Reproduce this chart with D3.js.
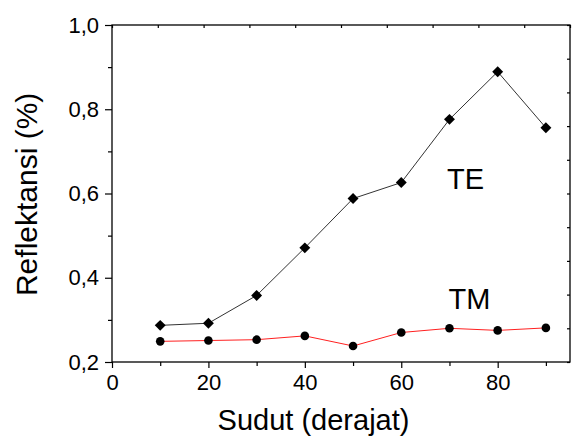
<!DOCTYPE html>
<html lang="en">
<head>
    <meta charset="UTF-8">
    <title>Reflektansi</title>
    <script src="https://d3js.org/d3.v7.min.js"></script>
    <style>
        body { margin: 0; background: #fff; }
        text { font-family: "Liberation Sans", Arial, sans-serif; fill: #000; }
        .line { fill: none; stroke-width: 1px; }
    </style>
</head>
<body>
<div id="chart"></div>
<script>
    // data
    var sudut = [10, 20, 30, 40, 50, 60, 70, 80, 90];
    var te = [0.287, 0.292, 0.358, 0.471, 0.588, 0.626, 0.776, 0.889, 0.756];
    var tm = [0.249, 0.251, 0.253, 0.262, 0.238, 0.270, 0.280, 0.275, 0.281];
    var xTicks = [0, 20, 40, 60, 80];
    var xMinor = [10, 30, 50, 70, 90];
    var yTicks = [0.2, 0.4, 0.6, 0.8, 1.0];
    var yMinor = [0.3, 0.5, 0.7, 0.9];

    var margin = {top: 25, right: 4, bottom: 79, left: 112},
        width = 574 - margin.left - margin.right,
        height = 441 - margin.top - margin.bottom;

    var x = d3.scaleLinear().domain([0, 95]).range([0, width]);
    var y = d3.scaleLinear().domain([0.2, 1.0]).range([height, 0]);
    // top and right frame edges carry their own unlabeled ticks (tenths of the box)
    var xTop = d3.scaleLinear().domain([0, 1]).range([0, width]);
    var yRight = d3.scaleLinear().domain([0, 1]).range([height, 0]);

    var svg = d3.select("#chart")
        .append("svg")
        .attr("width", 574)
        .attr("height", 441)
        .append("g")
        .attr("transform", "translate(" + margin.left + "," + margin.top + ")");

    var comma = function(d) { return d3.format(".1f")(d).replace(".", ","); };

    // frame
    svg.append("rect")
        .attr("width", width).attr("height", height)
        .attr("fill", "none").attr("stroke", "#000").attr("stroke-width", 1.3);

    // bottom axis
    svg.append("g")
        .attr("transform", "translate(0," + height + ")")
        .call(d3.axisBottom(x).tickValues(xTicks).tickSize(6).tickPadding(6).tickFormat(d3.format("d")));
    svg.append("g").attr("transform", "translate(0," + height + ")")
        .call(d3.axisBottom(x).tickValues(xMinor).tickSize(4).tickFormat(""));
    // top edge, ticks inward
    svg.append("g")
        .call(d3.axisTop(xTop).ticks(10).tickSize(-3).tickFormat(""));

    // left axis
    svg.append("g")
        .call(d3.axisLeft(y).tickValues(yTicks).tickSize(7).tickPadding(6).tickFormat(comma));
    svg.append("g")
        .call(d3.axisLeft(y).tickValues(yMinor).tickSize(4).tickFormat(""));
    // right edge, ticks inward
    svg.append("g").attr("transform", "translate(" + width + ",0)")
        .call(d3.axisRight(yRight).ticks(10).tickSize(-3).tickFormat(""));

    svg.selectAll(".domain").remove();
    svg.selectAll(".tick line").attr("stroke", "#000").attr("stroke-width", 1.2);
    svg.selectAll(".tick text").style("font-size", "22px");

    // lines
    var line = d3.line()
        .x(function(d) { return x(d[0]); })
        .y(function(d) { return y(d[1]); });

    var teData = sudut.map(function(s, i) { return [s, te[i]]; });
    var tmData = sudut.map(function(s, i) { return [s, tm[i]]; });

    svg.append("path").datum(teData).attr("class", "line")
        .attr("stroke", "#333").attr("d", line);
    svg.append("path").datum(tmData).attr("class", "line")
        .attr("stroke", "#ff2020").attr("d", line);

    // markers
    svg.selectAll(".te").data(teData).enter()
        .append("path").attr("class", "te")
        .attr("d", d3.symbol().type(d3.symbolDiamond2).size(76))
        .attr("transform", function(d) { return "translate(" + x(d[0]) + "," + y(d[1]) + ")"; })
        .attr("fill", "#000");
    svg.selectAll(".tm").data(tmData).enter()
        .append("circle").attr("class", "tm")
        .attr("cx", function(d) { return x(d[0]); })
        .attr("cy", function(d) { return y(d[1]); })
        .attr("r", 4.3)
        .attr("fill", "#000");

    // labels
    svg.append("text").attr("x", x(69.5)).attr("y", y(0.61))
        .style("font-size", "29px").text("TE");
    svg.append("text").attr("x", x(69.8)).attr("y", y(0.326))
        .style("font-size", "29px").text("TM");

    // axis titles
    svg.append("text")
        .attr("text-anchor", "middle")
        .attr("x", x(41.8)).attr("y", height + 68)
        .style("font-size", "29px").text("Sudut (derajat)");
    svg.append("text")
        .attr("text-anchor", "middle")
        .attr("transform", "translate(" + (-75) + "," + y(0.598) + ") rotate(-90)")
        .style("font-size", "30px").text("Reflektansi (%)");
</script>
</body>
</html>
